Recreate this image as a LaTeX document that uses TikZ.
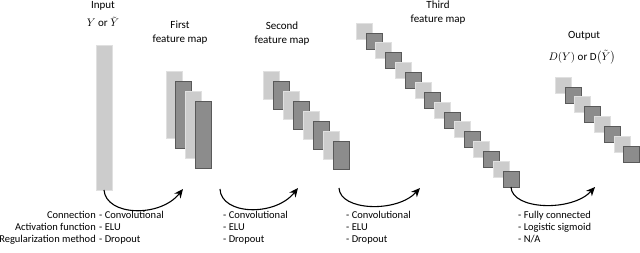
\documentclass[tikz,border=0pt]{standalone}
\usepackage{fontspec}
\setmainfont{Carlito}
\usepackage{amsmath}
\usetikzlibrary{arrows.meta}

\begin{document}
\begin{tikzpicture}[x=1pt, y=-1pt,
  lightbox/.style={draw=black!12, fill=black!20, line width=0.6pt, inner sep=0, outer sep=0, minimum width=16},
  darkbox/.style={draw=black!65, fill=black!45, line width=0.6pt, inner sep=0, outer sep=0, minimum width=16},
  head/.style={align=center, inner sep=1pt, font=\fontsize{11}{14}\selectfont},
  note/.style={align=left, anchor=north west, inner sep=0, font=\fontsize{10.5}{12}\selectfont},
  flow/.style={line width=1.1pt, -{Stealth[length=9pt, width=8pt]}}]
\useasboundingbox (0,0) rectangle (640,253);
% input layer
\node[lightbox, minimum height=145] (in) at (104,117.5) {};
\node[head] (inlab) at (103,6) {Input};
\node[head] (inmath) at (103,22) {$Y$ or $\tilde{Y}$};
% first feature map
\foreach \i in {0,...,3}{
  \ifodd\i\relax\def\tone{darkbox}\else\def\tone{lightbox}\fi
  \node[\tone, minimum height=67] (f\i) at (174+9.7*\i, 104.5+10*\i) {};
}
\node[head] (flab) at (180,33) {First\\feature map};
% second feature map
\foreach \i in {0,...,7}{
  \ifodd\i\relax\def\tone{darkbox}\else\def\tone{lightbox}\fi
  \node[\tone, minimum height=28] (s\i) at (271+10*\i, 85+10*\i) {};
}
\node[head] (slab) at (282,34) {Second\\feature map};
% third feature map
\foreach \i in {0,...,15}{
  \ifodd\i\relax\def\tone{darkbox}\else\def\tone{lightbox}\fi
  \node[\tone, minimum height=16] (t\i) at (364+9.8*\i, 31+9.87*\i) {};
}
\node[head] (tlab) at (438,13) {Third\\feature map};
% output
\foreach \i in {0,...,7}{
  \ifodd\i\relax\def\tone{darkbox}\else\def\tone{lightbox}\fi
  \node[\tone, minimum height=16] (o\i) at (563+9.8*\i, 85+9.85*\i) {};
}
\node[head] (olab) at (584,36) {Output};
\node[head] (omath) at (582,57) {$D(Y)$ or $\mathrm{D}\big(\tilde{Y}\big)$};
% connections
\coordinate (a2) at (220,189);
\coordinate (a3) at (339,188);
\coordinate (b1) at (183,189);
\coordinate (b2) at (298,188);
\coordinate (b3) at (420,188);
\coordinate (b4) at (595,187);
\draw[flow] (in.south) .. controls (106,216) and (160,218) .. (b1);
\draw[flow] (a2) .. controls (221,215) and (275,217) .. (b2);
\draw[flow] (a3) .. controls (340,211) and (397,213) .. (b3);
\draw[flow] (t15.south) .. controls (512,210) and (572,212) .. (b4);
% properties
\node[note, anchor=north east, align=right] (props) at (96,211) {Connection\\Activation function\\Regularization method};
\node[note] (c1) at (99,211) {- Convolutional\\- ELU\\- Dropout};
\node[note] (c2) at (223,211) {- Convolutional\\- ELU\\- Dropout};
\node[note] (c3) at (346,211) {- Convolutional\\- ELU\\- Dropout};
\node[note] (c4) at (518,211) {- Fully connected\\- Logistic sigmoid\\- N/A};
\end{tikzpicture}
\end{document}
